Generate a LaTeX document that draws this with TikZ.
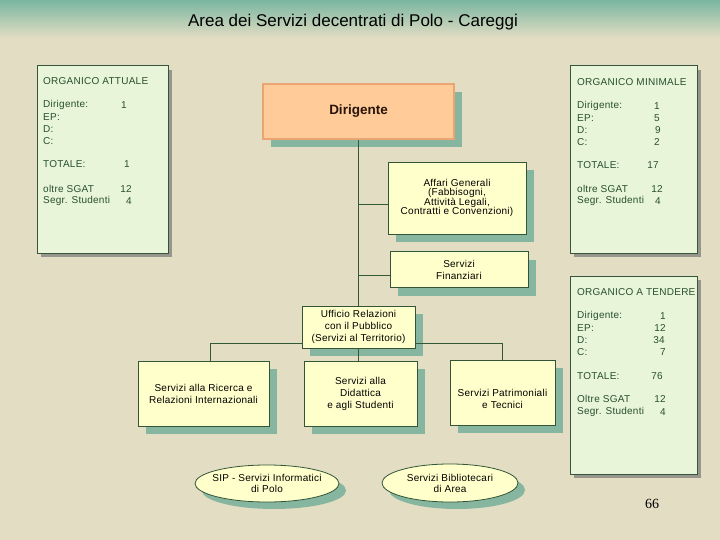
\documentclass[tikz,border=0pt]{standalone}
\usepackage{fontspec}
\setmainfont{Liberation Sans}
\newfontfamily\spacedsans[LetterSpace=2.5]{Liberation Sans}
\newfontfamily\serifnum{Liberation Serif}
\usetikzlibrary{shapes.geometric,shadows,calc}
\definecolor{bg}{RGB}{226,221,195}
\definecolor{topteal}{RGB}{122,182,160}
\definecolor{shteal}{RGB}{134,182,160}
\definecolor{panelfill}{RGB}{232,245,216}
\definecolor{panelline}{RGB}{55,85,60}
\definecolor{paneltext}{RGB}{40,80,45}
\definecolor{boxfill}{RGB}{255,255,204}
\definecolor{boxline}{RGB}{50,85,55}
\definecolor{peach}{RGB}{255,204,153}
\definecolor{peachline}{RGB}{235,165,115}
\definecolor{greysh}{RGB}{150,150,140}
\definecolor{conncol}{RGB}{50,90,55}
\begin{document}
\begin{tikzpicture}[x=1pt,y=-1pt,
  tshadow/.style={drop shadow={shadow xshift=8pt,shadow yshift=-8pt,fill=shteal,opacity=1}},
  orgbox/.style={draw=boxline, line width=0.8pt, fill=boxfill, tshadow, align=center,
    font=\spacedsans\fontsize{10}{12}\selectfont, inner sep=0pt},
  ellbox/.style={ellipse, draw=boxline, line width=0.8pt, fill=boxfill,
    drop shadow={shadow xshift=7pt,shadow yshift=-7pt,fill=shteal,opacity=1}, inner sep=0pt},
  elltext/.style={align=center, font=\spacedsans\fontsize{10}{11}\selectfont},
  dirbox/.style={draw=peachline, line width=2pt, fill=peach, tshadow,
    font=\fontsize{13.5}{16}\selectfont\bfseries, text={rgb,255:red,40;green,20;blue,10}, inner sep=0pt},
  panelbox/.style={draw=panelline, line width=1pt, fill=panelfill,
    drop shadow={shadow xshift=4pt,shadow yshift=-4pt,fill=greysh,opacity=1}, inner sep=0pt},
  ptext/.style={font=\spacedsans\fontsize{10}{12}\selectfont, text=paneltext, inner sep=0pt},
  conn/.style={draw=conncol, line width=0.9pt}
]
\useasboundingbox (0,0) rectangle (720,540);
% background
\fill[bg] (0,0) rectangle (720,540);
\shade[top color=topteal, bottom color=bg] (0,0) rectangle (720,38);
\node[font=\fontsize{17}{20}\selectfont] (title) at (353,22) {Area dei Servizi decentrati di Polo - Careggi};

% panels
\node[panelbox, minimum width=131, minimum height=187] (pa) at (102.5,159.5) {};
\node[panelbox, minimum width=127, minimum height=187] (pm) at (633.5,159.5) {};
\node[panelbox, minimum width=127, minimum height=198] (pt) at (633.5,375) {};

% panel ATTUALE text
\node[ptext, anchor=west] (pa0) at (43,81) {ORGANICO ATTUALE};
\node[ptext, anchor=west] (pa1) at (43,105) {Dirigente:};
\node[ptext, anchor=west] (pa2) at (43,117) {EP:};
\node[ptext, anchor=west] (pa3) at (43,129) {D:};
\node[ptext, anchor=west] (pa4) at (43,141) {C:};
\node[ptext, anchor=west] (pa5) at (43,164) {TOTALE:};
\node[ptext, anchor=west] (pa6) at (43,189) {oltre SGAT};
\node[ptext, anchor=west] (pa7) at (43,201) {Segr. Studenti};
\node[ptext] (pan1) at (124,105) {1};
\node[ptext] (pan5) at (127,164) {1};
\node[ptext] (pan6) at (126,189) {12};
\node[ptext] (pan7) at (129,201) {4};

% panel MINIMALE text
\node[ptext, anchor=west] (pm0) at (577,82) {ORGANICO MINIMALE};
\node[ptext, anchor=west] (pm1) at (577,106) {Dirigente:};
\node[ptext, anchor=west] (pm2) at (577,118) {EP:};
\node[ptext, anchor=west] (pm3) at (577,130) {D:};
\node[ptext, anchor=west] (pm4) at (577,142) {C:};
\node[ptext, anchor=west] (pm5) at (577,165) {TOTALE:};
\node[ptext, anchor=west] (pm6) at (577,189) {oltre SGAT};
\node[ptext, anchor=west] (pm7) at (577,201) {Segr. Studenti};
\node[ptext] (pmn1) at (657,106) {1};
\node[ptext] (pmn2) at (657,118) {5};
\node[ptext] (pmn3) at (658,130) {9};
\node[ptext] (pmn4) at (657,142) {2};
\node[ptext] (pmn5) at (653,165) {17};
\node[ptext] (pmn6) at (657,189) {12};
\node[ptext] (pmn7) at (658,201) {4};

% panel TENDERE text
\node[ptext, anchor=west] (pt0) at (577,292) {ORGANICO A TENDERE};
\node[ptext, anchor=west] (pt1) at (577,316) {Dirigente:};
\node[ptext, anchor=west] (pt2) at (577,328) {EP:};
\node[ptext, anchor=west] (pt3) at (577,340) {D:};
\node[ptext, anchor=west] (pt4) at (577,352) {C:};
\node[ptext, anchor=west] (pt5) at (577,376) {TOTALE:};
\node[ptext, anchor=west] (pt6) at (577,399) {Oltre SGAT};
\node[ptext, anchor=west] (pt7) at (577,412) {Segr. Studenti};
\node[ptext, anchor=east] (ptn1) at (666,316) {1};
\node[ptext, anchor=east] (ptn2) at (666,328) {12};
\node[ptext, anchor=east] (ptn3) at (665,340) {34};
\node[ptext, anchor=east] (ptn4) at (666,352) {7};
\node[ptext, anchor=east] (ptn5) at (663,376) {76};
\node[ptext, anchor=east] (ptn6) at (666,399) {12};
\node[ptext, anchor=east] (ptn7) at (666,412) {4};

% org chart boxes
\node[dirbox, minimum width=191, minimum height=55] (dir) at (358.5,111.5) {Dirigente};
\node[orgbox, minimum width=138, minimum height=72, font=\spacedsans\fontsize{10}{9.5}\selectfont] (aff) at (457,198)
  {Affari Generali\\(Fabbisogni,\\Attività Legali,\\Contratti e Convenzioni)};
\node[orgbox, minimum width=138, minimum height=36] (fin) at (459,269.5) {Servizi\\Finanziari};
\node[orgbox, minimum width=113, minimum height=42] (urp) at (358.5,327)
  {Ufficio Relazioni\\con il Pubblico\\(Servizi al Territorio)};
\node[orgbox, minimum width=131, minimum height=65] (ric) at (203.5,393.5)
  {Servizi alla Ricerca e\\Relazioni Internazionali};
\node[orgbox, minimum width=113, minimum height=65] (did) at (360.5,393.5)
  {Servizi alla\\Didattica\\e agli Studenti};
\node[orgbox, minimum width=105, minimum height=65,
  label={[align=center, font=\spacedsans\fontsize{10}{12}\selectfont, yshift=-6pt]center:{Servizi Patrimoniali\\e Tecnici}}] (pat) at (502.5,392.5) {};
\node[ellbox, minimum width=144, minimum height=37] (sip) at (267,483.5) {};
\node[elltext] (siptxt) at (sip.center) {SIP - Servizi Informatici\\di Polo};
\node[ellbox, minimum width=136, minimum height=38] (bib) at (450,483) {};
\node[elltext] (bibtxt) at (bib.center) {Servizi Bibliotecari\\di Area};

% connectors
\coordinate (ja) at ($(aff.west)+(0,6)$);
\coordinate (jf) at ($(fin.west)+(0,6)$);
\coordinate (ju) at ($(urp.south west)+(0,-5)$);
\coordinate (jr) at ($(urp.south east)+(0,-5)$);
\draw[conn] (dir.south) -- (urp.north);
\draw[conn] (ja) -- (ja -| dir.south);
\draw[conn] (jf) -- (jf -| dir.south);
\draw[conn] (ju) -| ($(ric.north)+(7,0)$);
\draw[conn] (jr) -| (pat.north);
\draw[conn] (urp.south) -- (urp.south |- did.north);

\node[font=\serifnum\fontsize{14}{16}\selectfont] (pg) at (652,504) {66};
\end{tikzpicture}
\end{document}
